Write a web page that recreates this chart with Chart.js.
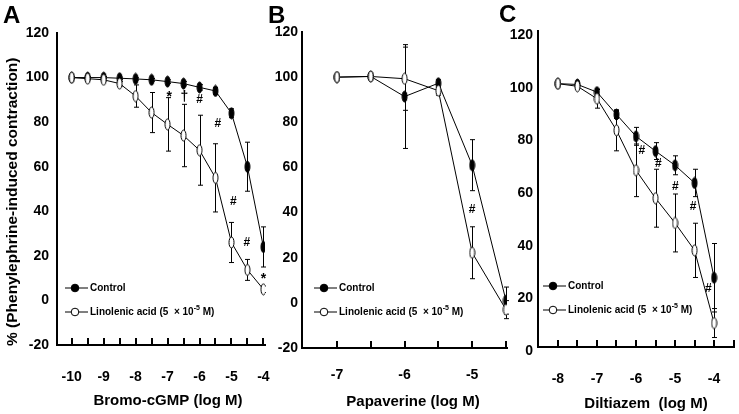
<!DOCTYPE html>
<html>
<head>
<meta charset="utf-8">
<script src="https://cdn.jsdelivr.net/npm/chart.js@4.4.0/dist/chart.umd.min.js"></script>
<style>
  html, body { margin: 0; padding: 0; background: #fff; }
  #wrap { position: relative; width: 739px; height: 414px; }
  #wrap canvas { position: absolute; left: 0; top: 0; }
</style>
</head>
<body>
<div id="wrap">
  <canvas id="chartA" width="739" height="414"></canvas>
  <canvas id="chartB" width="739" height="414"></canvas>
  <canvas id="chartC" width="739" height="414"></canvas>
</div>
<script>
// Panel A - Bromo-cGMP
const doseA = [-10, -9.5, -9, -8.5, -8, -7.5, -7, -6.5, -6, -5.5, -5, -4.5, -4];
const controlA = [100, 100, 100, 99.7, 99.4, 99, 98.2, 97.3, 95.6, 94, 84, 60, 24];
const controlErrA = [0.5, 0.5, 0.5, 0.5, 0.5, 0.6, 0.8, 1, 1.2, 1.5, 2, 11, 9];
const linolenicA = [100, 99.5, 99, 97.3, 91.7, 84.3, 79, 74, 67.4, 55, 26, 13.7, 5];
const linolenicErrA = [0.5, 0.5, 0.5, 1, 5, 9, 12, 14, 15.7, 15.3, 9, 4.7, 1.5];
const ticksA = [-10, -9.5, -9, -8.5, -8, -7.5, -7, -6.5, -6, -5.5, -5, -4.5, -4];
const marksA = ['*', '†', '#', '#', '#', '#', '*'];
const markXA = [-6.95, -6.47, -6.0, -5.43, -4.94, -4.52, -4.0];
const markYA = [93, 91, 90, 79.5, 44.3, 25.9, 11.4];

// Panel B - Papaverine
const doseB = [-7, -6.5, -6, -5.5, -5, -4.5];
const controlB = [100, 100.3, 91.4, 97.3, 61, 1];
const controlErrB = [0.5, 0.5, 23, 1.5, 11.3, 6];
const linolenicB = [100, 100.3, 99.3, 94, 22.2, -3];
const linolenicErrB = [0.5, 0.5, 14, 2, 11.5, 4];
const ticksB = [-7, -6.5, -6, -5.5, -5, -4.5];
const marksB = ['#'];
const markXB = [-5];
const markYB = [41.2];

// Panel C - Diltiazem
const doseC = [-8, -7.5, -7, -6.5, -6, -5.5, -5, -4.5, -4];
const controlC = [100, 99.7, 96.8, 88.3, 80, 74.4, 69, 62.3, 26.3];
const controlErrC = [0.5, 0.5, 1, 1.5, 3.4, 3.2, 3.6, 5.2, 13];
const linolenicC = [100, 99, 94.3, 82.3, 67.1, 56.5, 47.1, 36.7, 9.1];
const linolenicErrC = [0.5, 0.8, 3.6, 7.8, 10, 11, 11, 10.3, 5.5];
const ticksC = [-8, -7.5, -7, -6.5, -6, -5.5, -5, -4.5, -4, -3.5];
const marksC = ['#', '#', '#', '#', '#'];
const markXC = [-5.85, -5.43, -4.99, -4.54, -4.15];
const markYC = [74.6, 69.6, 61, 53.2, 22.2];

const FONT = '"Liberation Sans", Arial, sans-serif';

// narrow vertical ellipse markers like the original figure
function ellipseImage(fill) {
    const c = document.createElement('canvas');
    c.width = 7;
    c.height = 13;
    const g = c.getContext('2d');
    g.beginPath();
    g.ellipse(3.5, 6.5, 2.5, 5.5, 0, 0, Math.PI * 2);
    g.fillStyle = fill;
    g.fill();
    g.lineWidth = 1;
    g.strokeStyle = '#000';
    g.stroke();
    return c;
}
const filledDot = ellipseImage('#000');
const openDot = ellipseImage('#fff');

const errorBars = {
    id: 'errorBars',
    beforeDatasetsDraw(chart) {
        const ctx = chart.ctx;
        const yScale = chart.scales.y;
        ctx.save();
        ctx.strokeStyle = '#000';
        ctx.lineWidth = 1;
        chart.data.datasets.forEach((ds, i) => {
            const meta = chart.getDatasetMeta(i);
            meta.data.forEach((pt, j) => {
                const err = ds.errors[j];
                if (!err) return;
                const v = ds.data[j].y;
                const top = yScale.getPixelForValue(v + err);
                const bot = yScale.getPixelForValue(v - err);
                const x = Math.round(pt.x) + 0.5;
                ctx.beginPath();
                ctx.moveTo(x, top); ctx.lineTo(x, bot);
                ctx.moveTo(x - 2.5, top); ctx.lineTo(x + 2.5, top);
                ctx.moveTo(x - 2.5, bot); ctx.lineTo(x + 2.5, bot);
                ctx.stroke();
            });
        });
        ctx.restore();
    }
};

// tick marks pointing up into the plot
const innerTicks = {
    id: 'innerTicks',
    afterDraw(chart) {
        const xs = chart.scales.x;
        const ctx = chart.ctx;
        const b = chart.chartArea.bottom;
        ctx.save();
        ctx.strokeStyle = '#000';
        ctx.lineWidth = 2;
        xs.ticks.forEach(t => {
            const px = Math.round(xs.getPixelForValue(t.value));
            ctx.beginPath();
            ctx.moveTo(px, b);
            ctx.lineTo(px, b - 7);
            ctx.stroke();
        });
        ctx.restore();
    }
};

function legendRow(ctx, x, y, filled, parts) {
    ctx.strokeStyle = '#000';
    ctx.lineWidth = 1;
    ctx.beginPath();
    ctx.moveTo(x, y); ctx.lineTo(x + 23, y);
    ctx.stroke();
    ctx.beginPath();
    ctx.arc(x + 10, y, 3.8, 0, Math.PI * 2);
    ctx.fillStyle = filled ? '#000' : '#fff';
    ctx.fill();
    ctx.stroke();
    ctx.fillStyle = '#000';
    ctx.textAlign = 'left';
    ctx.textBaseline = 'middle';
    let tx = x + 25;
    parts.forEach(p => {
        ctx.font = 'bold ' + p.size + 'px ' + FONT;
        ctx.fillText(p.text, tx, y + (p.rise || 0));
        tx += ctx.measureText(p.text).width;
    });
}

const panelDeco = {
    id: 'panel',
    afterDraw(chart, args, o) {
        const ctx = chart.ctx;
        const xs = chart.scales.x;
        const ys = chart.scales.y;
        ctx.save();
        ctx.fillStyle = '#000';

        ctx.font = 'bold 24px ' + FONT;
        ctx.textAlign = 'left';
        ctx.textBaseline = 'alphabetic';
        ctx.fillText(o.letter, o.letterAt[0], o.letterAt[1]);

        ctx.font = 'bold 15px ' + FONT;
        ctx.textAlign = 'center';
        ctx.textBaseline = 'middle';
        ctx.fillText(o.xTitle, o.xTitleAt[0], o.xTitleAt[1]);

        if (o.yTitle) {
            ctx.save();
            ctx.font = 'bold 15.5px ' + FONT;
            ctx.translate(o.yTitleAt[0], o.yTitleAt[1]);
            ctx.rotate(-Math.PI / 2);
            ctx.textAlign = 'left';
            ctx.fillText(o.yTitle, 0, 0);
            ctx.restore();
        }

        ctx.textAlign = 'center';
        o.marks.forEach((m, i) => {
            ctx.font = (m === '#' ? 'bold 12px ' : 'bold 14px ') + FONT;
            const dy = m === '*' ? 4 : 0;
            ctx.fillText(m, xs.getPixelForValue(o.markX[i]), ys.getPixelForValue(o.markY[i]) + dy);
        });

        legendRow(ctx, o.legendAt[0], o.legendAt[1], true, [{ text: 'Control', size: 10 }]);
        legendRow(ctx, o.legendAt[0], o.legendAt[1] + 24, false, [
            { text: 'Linolenic acid (5  × 10', size: 10 },
            { text: '-5', size: 7, rise: -4 },
            { text: ' M)', size: 10 }
        ]);
        ctx.restore();
    }
};

function makePanel(id, p) {
    const a = p.area;
    return new Chart(document.getElementById(id), {
        type: 'line',
        data: {
            datasets: [{
                label: 'Linolenic acid (5 × 10-5 M)',
                data: p.dose.map((d, i) => ({ x: d, y: p.lin[i] })),
                errors: p.linErr,
                pointStyle: openDot,
                borderColor: '#000',
                borderWidth: 1,
                order: 1
            }, {
                label: 'Control',
                data: p.dose.map((d, i) => ({ x: d, y: p.ctrl[i] })),
                errors: p.ctrlErr,
                pointStyle: filledDot,
                borderColor: '#000',
                borderWidth: 1,
                order: 2
            }]
        },
        options: {
            responsive: false,
            animation: false,
            events: [],
            layout: { padding: { left: 0, top: a.top, right: 739 - a.right, bottom: 414 - a.bottom - 40 } },
            plugins: { legend: { display: false }, tooltip: { enabled: false }, panel: p.deco },
            scales: {
                x: {
                    type: 'linear',
                    min: p.xMin,
                    max: p.xMax,
                    afterBuildTicks: s => { s.ticks = p.ticks.map(v => ({ value: v })); },
                    afterFit: s => { s.height = 40; s.paddingLeft = 0; s.paddingRight = 0; },
                    grid: { display: false, drawTicks: false },
                    border: { display: true, color: '#000', width: 2 },
                    ticks: {
                        autoSkip: false,
                        maxRotation: 0,
                        padding: p.xPad,
                        color: '#000',
                        font: { family: FONT, size: 14, weight: 'bold' },
                        callback: v => Number.isInteger(v) ? String(v) : ''
                    }
                },
                y: {
                    min: p.yMin,
                    max: 120,
                    afterFit: s => { s.width = a.left; },
                    grid: { display: false, drawTicks: false },
                    border: { display: true, color: '#000', width: 2 },
                    ticks: {
                        stepSize: 20,
                        padding: p.yPad,
                        labelOffset: p.yOffset,
                        color: '#000',
                        font: { family: FONT, size: 14, weight: 'bold' }
                    }
                }
            }
        },
        plugins: [errorBars, innerTicks, panelDeco]
    });
}

makePanel('chartA', {
    area: { left: 57, right: 265, top: 33, bottom: 345 },
    dose: doseA, ctrl: controlA, ctrlErr: controlErrA, lin: linolenicA, linErr: linolenicErrA,
    ticks: ticksA, xMin: -10.46, xMax: -3.95, yMin: -20, xPad: 24, yPad: 8, yOffset: 0,
    deco: {
        letter: 'A', letterAt: [3, 23],
        xTitle: 'Bromo-cGMP (log M)', xTitleAt: [168, 401],
        yTitle: '% (Phenylephrine-induced contraction)', yTitleAt: [13, 346],
        marks: marksA, markX: markXA, markY: markYA,
        legendAt: [65, 288]
    }
});

makePanel('chartB', {
    area: { left: 302, right: 507, top: 32, bottom: 348 },
    dose: doseB, ctrl: controlB, ctrlErr: controlErrB, lin: linolenicB, linErr: linolenicErrB,
    ticks: ticksB, xMin: -7.517, xMax: -4.485, yMin: -20, xPad: 19, yPad: 4, yOffset: 0,
    deco: {
        letter: 'B', letterAt: [268, 23],
        xTitle: 'Papaverine (log M)', xTitleAt: [413, 402],
        yTitle: null, yTitleAt: [0, 0],
        marks: marksB, markX: markXB, markY: markYB,
        legendAt: [314, 288]
    }
});

makePanel('chartC', {
    area: { left: 538, right: 737, top: 31, bottom: 347 },
    dose: doseC, ctrl: controlC, ctrlErr: controlErrC, lin: linolenicC, linErr: linolenicErrC,
    ticks: ticksC, xMin: -8.51, xMax: -3.49, yMin: 0, xPad: 24, yPad: 5, yOffset: 4,
    deco: {
        letter: 'C', letterAt: [499, 22],
        xTitle: 'Diltiazem  (log M)', xTitleAt: [646, 404],
        yTitle: null, yTitleAt: [0, 0],
        marks: marksC, markX: markXC, markY: markYC,
        legendAt: [543, 286]
    }
});
</script>
</body>
</html>
